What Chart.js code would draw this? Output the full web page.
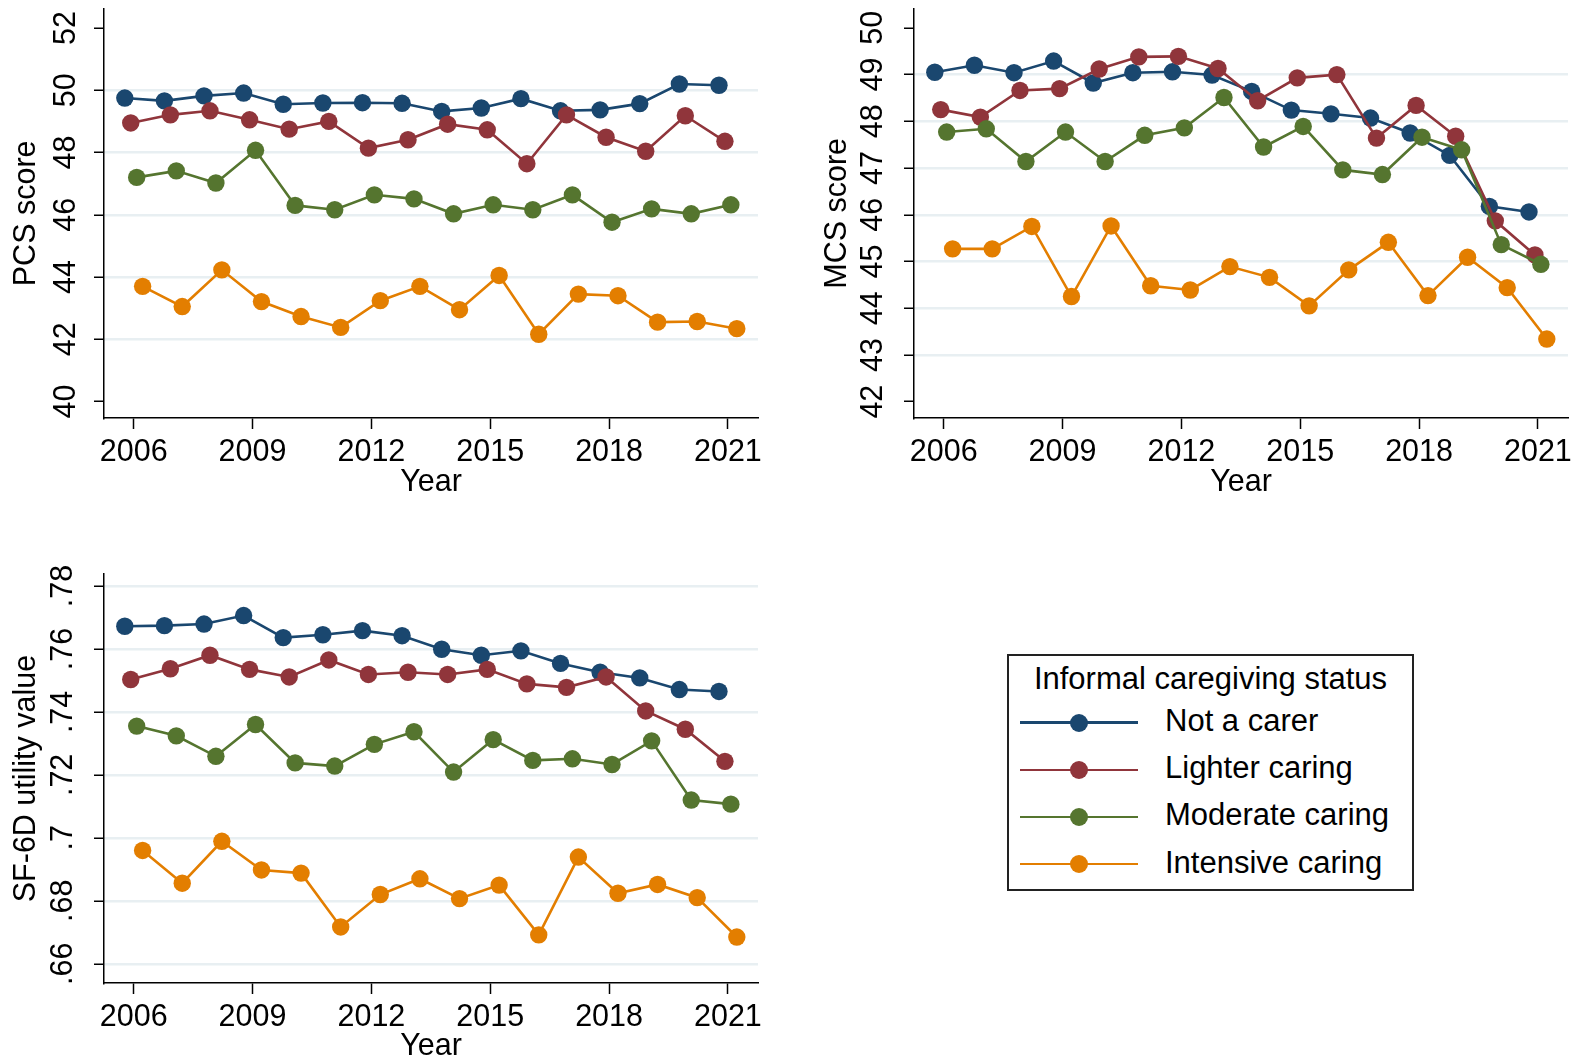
<!DOCTYPE html>
<html>
<head>
<meta charset="utf-8">
<script src="https://cdn.jsdelivr.net/npm/chart.js@4/dist/chart.umd.min.js"></script>
<style>
  body { margin: 0; background: #fff; width: 1578px; height: 1061px; position: relative; overflow: hidden;
         font-family: "Liberation Sans", Arial, sans-serif; }
  canvas { position: absolute; }
  #legend { position: absolute; left: 1007px; top: 654px; width: 407px; height: 237px;
            border: 2px solid #222; box-sizing: border-box; }
  .ltxt { position: absolute; font-size: 31px; line-height: 36px; color: #000; white-space: nowrap; }
</style>
</head>
<body>
<canvas id="pcs" width="790" height="520" style="left:0;top:0"></canvas>
<canvas id="mcs" width="778" height="520" style="left:800px;top:0"></canvas>
<canvas id="sf6d" width="790" height="525" style="left:0;top:540px"></canvas>
<div id="legend"></div>
<script>
// survey waves and axis ticks
var years = [2006, 2007, 2008, 2009, 2010, 2011, 2012, 2013, 2014, 2015, 2016, 2017, 2018, 2019, 2020, 2021];
var xTicks = [2006, 2009, 2012, 2015, 2018, 2021];

var seriesNames = ['Not a carer', 'Lighter caring', 'Moderate caring', 'Intensive caring'];
var seriesColors = ['#1a476f', '#90353b', '#55752f', '#e37e00'];
var dodge = [-0.225, -0.075, 0.075, 0.225];

// PCS score
var pcsNotCarer  = [49.75, 49.66, 49.82, 49.91, 49.55, 49.59, 49.60, 49.58, 49.32, 49.43, 49.73, 49.34, 49.37, 49.57, 50.20, 50.16];
var pcsLighter   = [48.95, 49.21, 49.34, 49.05, 48.75, 49.00, 48.14, 48.41, 48.91, 48.73, 47.64, 49.21, 48.49, 48.04, 49.18, 48.36];
var pcsModerate  = [47.20, 47.41, 47.02, 48.07, 46.30, 46.16, 46.64, 46.51, 46.03, 46.32, 46.16, 46.64, 45.76, 46.19, 46.03, 46.32];
var pcsIntensive = [43.70, 43.05, 44.23, 43.21, 42.73, 42.38, 43.24, 43.70, 42.95, 44.05, 42.16, 43.45, 43.40, 42.55, 42.57, 42.34];
var pcsTicks = [40, 42, 44, 46, 48, 50, 52];

// MCS score
var mcsNotCarer  = [49.05, 49.20, 49.04, 49.29, 48.82, 49.04, 49.06, 48.99, 48.64, 48.24, 48.16, 48.07, 47.75, 47.27, 46.18, 46.06];
var mcsLighter   = [48.25, 48.09, 48.66, 48.70, 49.12, 49.38, 49.39, 49.13, 48.44, 48.93, 49.00, 47.64, 48.34, 47.68, 45.87, 45.14];
var mcsModerate  = [47.77, 47.84, 47.14, 47.77, 47.14, 47.70, 47.86, 48.51, 47.45, 47.89, 46.96, 46.86, 47.66, 47.39, 45.36, 44.94];
var mcsIntensive = [45.27, 45.27, 45.75, 44.25, 45.76, 44.48, 44.39, 44.89, 44.66, 44.05, 44.82, 45.41, 44.27, 45.09, 44.44, 43.34];
var mcsTicks = [42, 43, 44, 45, 46, 47, 48, 49, 50];

// SF-6D utility value
var sfNotCarer  = [0.7672, 0.7674, 0.7679, 0.7706, 0.7636, 0.7645, 0.7658, 0.7642, 0.7599, 0.7580, 0.7594, 0.7554, 0.7526, 0.7508, 0.7471, 0.7465];
var sfLighter   = [0.7503, 0.7537, 0.7580, 0.7535, 0.7511, 0.7565, 0.7519, 0.7526, 0.7519, 0.7535, 0.7489, 0.7478, 0.7511, 0.7403, 0.7345, 0.7243];
var sfModerate  = [0.7355, 0.7324, 0.7259, 0.7360, 0.7238, 0.7228, 0.7297, 0.7337, 0.7209, 0.7312, 0.7246, 0.7251, 0.7233, 0.7308, 0.7120, 0.7107];
var sfIntensive = [0.6960, 0.6856, 0.6989, 0.6898, 0.6888, 0.6717, 0.6820, 0.6870, 0.6807, 0.6850, 0.6692, 0.6939, 0.6824, 0.6852, 0.6810, 0.6685];
var sfTicks = [0.66, 0.68, 0.70, 0.72, 0.74, 0.76, 0.78];
var sfTickLabels = ['.66', '.68', '.7', '.72', '.74', '.76', '.78'];

var FONT = { family: '"Liberation Sans", Arial, sans-serif', size: 30.5 };
var GRID = '#e8eff2';

function makePanel(id, series, p) {
    var datasets = series.map(function (vals, s) {
        return {
            label: seriesNames[s],
            data: vals.map(function (v, i) { return { x: years[i] + dodge[s], y: v }; }),
            borderColor: seriesColors[s],
            backgroundColor: seriesColors[s],
            pointBackgroundColor: seriesColors[s],
            pointBorderWidth: 0,
            pointRadius: 8.7,
            pointHoverRadius: 8.7,
            borderWidth: 2.6,
            tension: 0,
            order: 3 - s
        };
    });

    return new Chart(document.getElementById(id), {
        type: 'line',
        data: { datasets: datasets },
        options: {
            responsive: false,
            animation: false,
            devicePixelRatio: 1,
            layout: { padding: p.padding },
            plugins: { legend: { display: false }, tooltip: { enabled: false } },
            scales: {
                x: {
                    type: 'linear', min: 2005.25, max: 2021.76,
                    afterBuildTicks: function (s) { s.ticks = xTicks.map(function (v) { return { value: v }; }); },
                    afterFit: function (s) { s.height = p.xHeight; s.paddingLeft = 0; s.paddingRight = 0; },
                    ticks: { font: FONT, color: '#000', padding: 5, autoSkip: false, maxRotation: 0,
                             callback: function (v) { return String(v); } },
                    grid: { drawOnChartArea: false, tickLength: 11, tickColor: '#000', tickWidth: 1.5 },
                    border: { color: '#000', width: 1.5 },
                    title: { display: true, text: 'Year', font: FONT, color: '#000',
                             padding: { top: 0, bottom: p.xTitlePad } }
                },
                y: {
                    type: 'linear', min: p.yMin, max: p.yMax,
                    afterBuildTicks: function (s) { s.ticks = p.ticks.map(function (v) { return { value: v }; }); },
                    afterFit: function (s) { s.width = p.yWidth; s.paddingTop = 0; s.paddingBottom = 0; },
                    ticks: { font: FONT, color: '#000', padding: p.yTickPad, minRotation: 90, maxRotation: 90,
                             crossAlign: 'center', autoSkip: false,
                             callback: function (v, i) { return p.labels ? p.labels[i] : String(v); } },
                    grid: {
                        color: function (ctx) {
                            if (p.skipEdgeGrid && (ctx.index === 0 || ctx.index === p.ticks.length - 1)) return 'rgba(0,0,0,0)';
                            return GRID;
                        },
                        lineWidth: 2.5, tickLength: 10, tickColor: '#000', tickWidth: 1.5
                    },
                    border: { color: '#000', width: 1.5 },
                    title: { display: true, text: p.title, font: FONT, color: '#000',
                             padding: { top: p.yTitlePad, bottom: 0 } }
                }
            }
        }
    });
}

makePanel('pcs', [pcsNotCarer, pcsLighter, pcsModerate, pcsIntensive], {
    yMin: 39.47, yMax: 52.62, ticks: pcsTicks, title: 'PCS score', skipEdgeGrid: true,
    padding: { left: 0, right: 32, top: 8, bottom: 0 },
    xHeight: 102, yWidth: 104, yTickPad: 10, yTitlePad: 8.7, xTitlePad: 18.7
});

makePanel('mcs', [mcsNotCarer, mcsLighter, mcsModerate, mcsIntensive], {
    yMin: 41.65, yMax: 50.41, ticks: mcsTicks, title: 'MCS score', skipEdgeGrid: true,
    padding: { left: 0, right: 10, top: 8, bottom: 0 },
    xHeight: 102, yWidth: 114, yTickPad: 13.4, yTitlePad: 19.7, xTitlePad: 18.7
});

makePanel('sf6d', [sfNotCarer, sfLighter, sfModerate, sfIntensive], {
    yMin: 0.6539, yMax: 0.7838, ticks: sfTicks, labels: sfTickLabels, title: 'SF-6D utility value', skipEdgeGrid: false,
    padding: { left: 0, right: 32, top: 34, bottom: 0 },
    xHeight: 82, yWidth: 104, yTickPad: 9.3, yTitlePad: 8.7, xTitlePad: 0
});

// legend box (page coordinates relative to the box)
(function () {
    var box = document.getElementById('legend');
    var bx = 1007, by = 654;
    var title = document.createElement('div');
    title.className = 'ltxt';
    title.textContent = 'Informal caregiving status';
    title.style.left = '0px';
    title.style.width = '403px';
    title.style.textAlign = 'center';
    title.style.top = (661 - by - 2) + 'px';
    box.appendChild(title);

    seriesNames.forEach(function (name, s) {
        var cy = 722.7 + s * 47.1 - by - 2;
        var line = document.createElement('div');
        line.style.cssText = 'position:absolute;height:2.5px;background:' + seriesColors[s] +
            ';left:' + (1020 - bx - 2) + 'px;width:118px;top:' + (cy - 1.25) + 'px';
        box.appendChild(line);
        var dot = document.createElement('div');
        dot.style.cssText = 'position:absolute;width:18px;height:18px;border-radius:50%;background:' + seriesColors[s] +
            ';left:' + (1079 - 9 - bx - 2) + 'px;top:' + (cy - 9) + 'px';
        box.appendChild(dot);
        var txt = document.createElement('div');
        txt.className = 'ltxt';
        txt.textContent = name;
        txt.style.left = (1165 - bx - 2) + 'px';
        txt.style.top = (cy + 9.3 - 28.8) + 'px';
        box.appendChild(txt);
    });
})();
</script>
</body>
</html>
